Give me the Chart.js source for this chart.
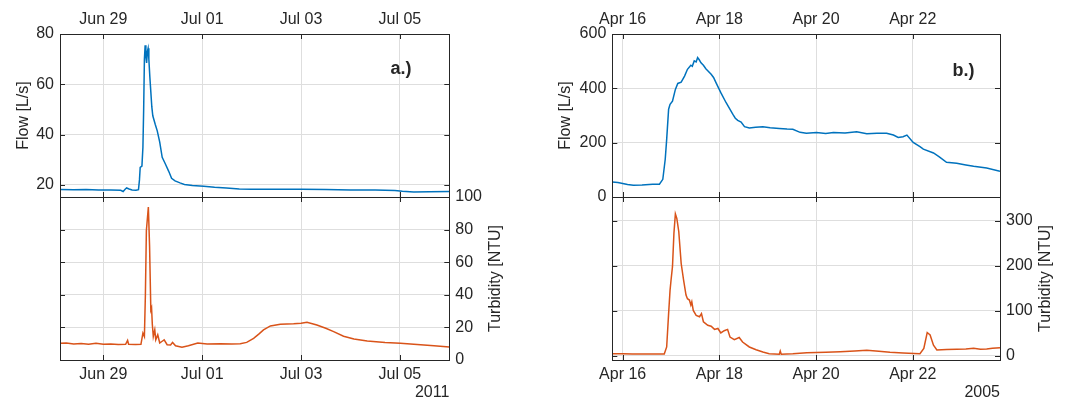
<!DOCTYPE html>
<html>
<head>
<title>Flow and turbidity events</title>
<script src="https://cdn.jsdelivr.net/npm/chart.js"></script>
<style>
  body { margin: 0; background: #fff; }
  #wrap { position: relative; width: 1084px; height: 402px; }
  #wrap canvas { position: absolute; left: 0; top: 0; }
</style>
</head>
<body>
<div id="wrap">
  <canvas id="flowA" width="1084" height="402"></canvas>
  <canvas id="turbA" width="1084" height="402"></canvas>
  <canvas id="flowB" width="1084" height="402"></canvas>
  <canvas id="turbB" width="1084" height="402"></canvas>
</div>
<script>
// a.) 2011 event, x in days from Jun 29 00:00
const flowDaysA = [-0.88, -0.6, -0.35, -0.1, 0.15, 0.35, 0.40, 0.44, 0.47, 0.52, 0.58, 0.66, 0.71, 0.73, 0.745, 0.78, 0.80, 0.815, 0.83, 0.845, 0.86, 0.875, 0.89, 0.905, 0.92, 0.94, 0.96, 0.98, 1.0, 1.05, 1.09, 1.14, 1.19, 1.25, 1.32, 1.38, 1.45, 1.55, 1.64, 1.8, 2.03, 2.25, 2.49, 2.75, 3.0, 3.5, 4.0, 4.5, 5.0, 5.5, 5.9, 6.05, 6.28, 6.6, 7.0];
const flowA = [18.2, 18.1, 18.2, 18.0, 18.0, 17.9, 17.4, 18.3, 18.8, 18.4, 18.0, 17.9, 18.1, 22, 27, 27.5, 35, 50, 70, 75.5, 71, 68.5, 73, 74.3, 70, 63, 57, 51, 47.5, 44, 41.5, 37, 31, 28.5, 25.5, 22.6, 21.6, 20.8, 20.2, 19.8, 19.5, 19.1, 18.8, 18.4, 18.3, 18.3, 18.3, 18.2, 18.0, 18.0, 17.8, 17.5, 17.2, 17.3, 17.4];
const turbDaysA = [-0.88, -0.75, -0.6, -0.45, -0.3, -0.15, 0.0, 0.15, 0.3, 0.45, 0.49, 0.51, 0.65, 0.76, 0.80, 0.83, 0.85, 0.87, 0.91, 0.935, 0.96, 0.975, 0.99, 1.01, 1.04, 1.06, 1.10, 1.14, 1.19, 1.23, 1.29, 1.36, 1.40, 1.46, 1.59, 1.72, 1.91, 2.1, 2.37, 2.6, 2.77, 2.9, 3.04, 3.15, 3.24, 3.38, 3.58, 3.85, 4.0, 4.12, 4.32, 4.5, 4.66, 4.86, 5.07, 5.34, 5.7, 6.01, 6.35, 6.69, 7.0];
const turbA = [10.2, 10.4, 9.8, 10.1, 9.7, 10.2, 9.6, 9.8, 9.5, 9.6, 12.0, 9.7, 9.5, 9.6, 16.5, 14.4, 40, 79.5, 93.8, 69.4, 30.7, 32, 22, 14.4, 18.5, 12.4, 15.5, 10.4, 11.5, 12.4, 9.4, 9.2, 10.8, 8.7, 7.9, 8.7, 10.4, 9.8, 10.0, 9.8, 10.0, 10.8, 13.3, 16, 18.5, 20.9, 22, 22.2, 22.6, 23.2, 21.5, 19.5, 17.4, 14.6, 12.9, 11.7, 10.8, 10.3, 9.5, 8.8, 8.0];

// b.) 2005 event, x in days from Apr 16 00:00
const flowDaysB = [-0.215, -0.1, 0.0, 0.1, 0.22, 0.4, 0.62, 0.76, 0.83, 0.88, 0.91, 0.95, 0.98, 1.03, 1.09, 1.14, 1.21, 1.28, 1.34, 1.41, 1.44, 1.48, 1.52, 1.55, 1.58, 1.62, 1.67, 1.72, 1.76, 1.83, 1.88, 1.93, 2.03, 2.14, 2.28, 2.33, 2.38, 2.45, 2.52, 2.62, 2.75, 2.90, 3.05, 3.24, 3.4, 3.52, 3.67, 3.8, 4.01, 4.2, 4.36, 4.6, 4.84, 5.05, 5.26, 5.46, 5.60, 5.70, 5.80, 5.88, 6.01, 6.15, 6.22, 6.43, 6.55, 6.7, 6.91, 7.1, 7.26, 7.53, 7.806];
const flowB = [55, 53, 50, 46, 43, 44, 47, 47, 65, 139, 212, 323, 341, 353, 396, 418, 423, 445, 470, 485, 481, 501, 497, 513, 506, 494, 485, 472, 465, 452, 440, 421, 384, 347, 304, 290, 282, 276, 259, 254, 257, 259, 255, 252, 250, 249, 238, 235, 237, 234, 237, 236, 240, 233, 235, 235, 228, 219, 222, 228, 201, 185, 176, 162, 148, 128, 124, 118, 113, 107, 95];
const turbDaysB = [-0.215, 0.0, 0.2, 0.4, 0.6, 0.86, 0.91, 0.95, 0.98, 1.0, 1.03, 1.06, 1.09, 1.12, 1.16, 1.21, 1.26, 1.31, 1.34, 1.38, 1.41, 1.43, 1.46, 1.52, 1.59, 1.63, 1.67, 1.76, 1.83, 1.90, 1.97, 2.03, 2.10, 2.17, 2.22, 2.31, 2.41, 2.48, 2.62, 2.76, 2.9, 3.03, 3.24, 3.26, 3.28, 3.52, 3.81, 4.2, 4.5, 4.8, 5.05, 5.3, 5.53, 5.8, 6.15, 6.23, 6.30, 6.36, 6.43, 6.50, 6.7, 6.91, 7.1, 7.26, 7.4, 7.53, 7.65, 7.806];
const turbB = [5, 5, 4.5, 4.2, 4.4, 4.5, 20, 94, 146, 168, 198, 272, 315, 305, 276, 205, 168, 135, 127, 124, 113, 120, 101, 90, 87, 94, 76, 68, 66, 59, 61, 51, 56, 59, 42, 36, 41, 31, 20, 14, 9, 5, 3.7, 11, 4, 5, 7.4, 8.5, 9.6, 11, 12.6, 10.5, 8.1, 6.5, 5.2, 17, 52, 46.6, 24, 13.3, 14.5, 14.8, 15.5, 17, 15, 15.5, 17, 18.5];

const dayTicks = [0, 2, 4, 6];
const dateLabelsA = ['Jun 29', 'Jul 01', 'Jul 03', 'Jul 05'];
const dateLabelsB = ['Apr 16', 'Apr 18', 'Apr 20', 'Apr 22'];
const flowTicksA = [20, 40, 60, 80];
const turbTicksA = [0, 20, 40, 60, 80, 100];
const flowTicksB = [0, 200, 400, 600];
const turbTicksB = [0, 100, 200, 300];

const BLUE = '#0072BD', ORANGE = '#D95319', INK = '#262626', GRID = '#dedede';
const W = 1084, H = 402;

Chart.defaults.font.family = '"Liberation Sans", Arial, Helvetica, sans-serif';
Chart.defaults.font.size = 16;
Chart.defaults.color = INK;

// box round the axes, inward tick marks, and loose labels
const framePlugin = {
    id: 'frame',
    afterDraw(chart, args, opts) {
        const { ctx, chartArea: a } = chart;
        ctx.save();
        ctx.strokeStyle = INK;
        ctx.lineWidth = 1;
        const len = 5;
        for (const s of Object.values(chart.scales)) {
            for (const t of s.ticks) {
                const p = Math.round(s.getPixelForValue(t.value)) + 0.5;
                ctx.beginPath();
                if (s.position === 'left') { ctx.moveTo(a.left, p); ctx.lineTo(a.left + len, p); }
                if (s.position === 'right') { ctx.moveTo(a.right, p); ctx.lineTo(a.right - len, p); }
                if (s.position === 'top') { ctx.moveTo(p, a.top); ctx.lineTo(p, a.top + len); }
                if (s.position === 'bottom') { ctx.moveTo(p, a.bottom); ctx.lineTo(p, a.bottom - len); }
                ctx.stroke();
            }
        }
        ctx.strokeRect(Math.round(a.left) + 0.5, Math.round(a.top) + 0.5, Math.round(a.right - a.left), Math.round(a.bottom - a.top));
        ctx.fillStyle = INK;
        ctx.textAlign = 'center';
        ctx.textBaseline = 'middle';
        for (const l of opts.labels || []) {
            ctx.save();
            ctx.font = (l.bold ? 'bold ' : '') + l.size + 'px "Liberation Sans", Arial, sans-serif';
            ctx.translate(l.x, l.y);
            if (l.vertical) ctx.rotate(-Math.PI / 2);
            ctx.fillText(l.text, 0, 0);
            ctx.restore();
        }
        ctx.restore();
    }
};

function makeChart(id, o) {
    const a = o.area;
    const xOther = o.xSide === 'top' ? 'bottom' : 'top';
    const yOther = o.ySide === 'left' ? 'right' : 'left';
    const room = { top: a.top, bottom: H - a.bottom, left: a.left - o.padLeft, right: W - a.right };
    const setTicks = vals => s => { s.ticks = vals.map(v => ({ value: v })); };

    new Chart(document.getElementById(id), {
        type: 'line',
        data: {
            datasets: [{
                data: o.xs.map((x, i) => ({ x: x, y: o.ys[i] })),
                borderColor: o.color,
                borderWidth: 1.5,
                pointRadius: 0,
                tension: 0
            }]
        },
        options: {
            responsive: false,
            animation: false,
            devicePixelRatio: 1,
            layout: { padding: { left: o.padLeft, top: 0, right: 0, bottom: 0 } },
            plugins: {
                legend: { display: false },
                tooltip: { enabled: false },
                frame: { labels: o.labels }
            },
            scales: {
                x: {
                    type: 'linear', position: o.xSide, min: o.xMin, max: o.xMax, bounds: 'data',
                    afterBuildTicks: setTicks(dayTicks),
                    afterFit: s => { s.height = room[o.xSide]; },
                    grid: { color: GRID, drawTicks: false },
                    border: { display: false },
                    ticks: { autoSkip: false, maxRotation: 0, padding: 5, callback: (v, i) => o.xLabels[i] },
                    title: o.year ? { display: true, text: o.year, align: 'end', padding: 0 } : { display: false }
                },
                x2: {
                    type: 'linear', position: xOther, min: o.xMin, max: o.xMax, bounds: 'data',
                    afterBuildTicks: setTicks(dayTicks),
                    afterFit: s => { s.height = room[xOther]; },
                    grid: { display: false },
                    border: { display: false },
                    ticks: { display: false }
                },
                y: {
                    type: 'linear', position: o.ySide, min: o.yMin, max: o.yMax, bounds: 'data',
                    afterBuildTicks: setTicks(o.yTicks),
                    afterFit: s => { s.width = room[o.ySide]; },
                    grid: { color: GRID, drawTicks: false },
                    border: { display: false },
                    ticks: { padding: 6, callback: v => v },
                    title: o.yTitle ? { display: true, text: o.yTitle, padding: { top: 14, bottom: 0 } } : { display: false }
                },
                y2: {
                    type: 'linear', position: yOther, min: o.yMin, max: o.yMax, bounds: 'data',
                    afterBuildTicks: setTicks(o.yTicks),
                    afterFit: s => { s.width = room[yOther]; },
                    grid: { display: false },
                    border: { display: false },
                    ticks: { display: false }
                }
            }
        },
        plugins: [framePlugin]
    });
}

makeChart('flowA', {
    xs: flowDaysA, ys: flowA, color: BLUE, padLeft: 0,
    area: { left: 60, top: 34, right: 449.3, bottom: 197 },
    xSide: 'top', xMin: -0.878, xMax: 7.0, xLabels: dateLabelsA,
    ySide: 'left', yMin: 15.2, yMax: 80, yTicks: flowTicksA, yTitle: 'Flow [L/s]',
    labels: [{ text: 'a.)', x: 401, y: 69, size: 18, bold: true }]
});
makeChart('turbA', {
    xs: turbDaysA, ys: turbA, color: ORANGE, padLeft: 0,
    area: { left: 60, top: 197, right: 449.3, bottom: 360 },
    xSide: 'bottom', xMin: -0.878, xMax: 7.0, xLabels: dateLabelsA, year: '2011',
    ySide: 'right', yMin: 0, yMax: 100, yTicks: turbTicksA,
    labels: [{ text: 'Turbidity [NTU]', x: 496, y: 278.5, size: 16, vertical: true }]
});
makeChart('flowB', {
    xs: flowDaysB, ys: flowB, color: BLUE, padLeft: 542,
    area: { left: 612.3, top: 34, right: 1000, bottom: 197 },
    xSide: 'top', xMin: -0.215, xMax: 7.806, xLabels: dateLabelsB,
    ySide: 'left', yMin: 0, yMax: 600, yTicks: flowTicksB, yTitle: 'Flow [L/s]',
    labels: [{ text: 'b.)', x: 963.5, y: 71.5, size: 18, bold: true }]
});
makeChart('turbB', {
    xs: turbDaysB, ys: turbB, color: ORANGE, padLeft: 542,
    area: { left: 612.3, top: 197, right: 1000, bottom: 360 },
    xSide: 'bottom', xMin: -0.215, xMax: 7.806, xLabels: dateLabelsB, year: '2005',
    ySide: 'right', yMin: -8.9, yMax: 352.5, yTicks: turbTicksB,
    labels: [{ text: 'Turbidity [NTU]', x: 1045.5, y: 278.5, size: 16, vertical: true }]
});
</script>
</body>
</html>
